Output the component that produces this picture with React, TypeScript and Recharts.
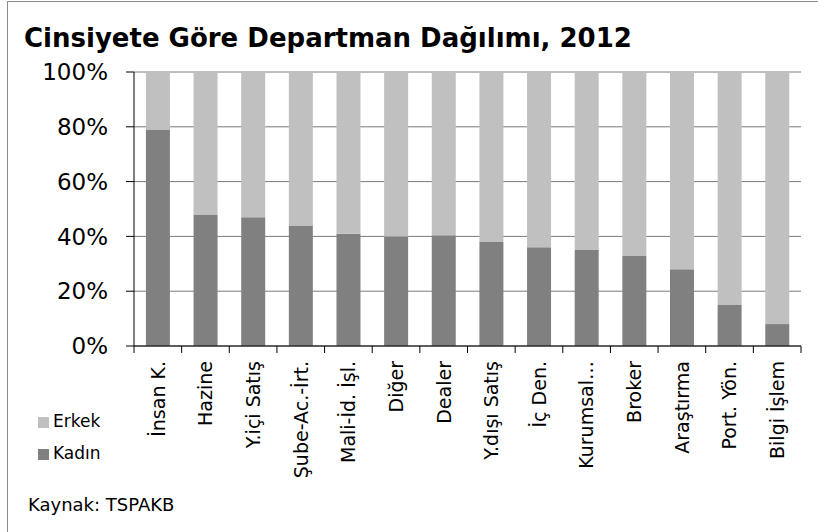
import React from "react";
import { Bar, BarChart, CartesianGrid, XAxis, YAxis } from "recharts";

// departments, sorted by share of women
const departments = [
  "İnsan K.",
  "Hazine",
  "Y.içi Satış",
  "Şube-Ac.-İrt.",
  "Mali-İd. İşl.",
  "Diğer",
  "Dealer",
  "Y.dışı Satış",
  "İç Den.",
  "Kurumsal…",
  "Broker",
  "Araştırma",
  "Port. Yön.",
  "Bilgi İşlem",
];

// share of women (%)
const kadin = [79, 48, 47, 44, 41, 40, 40.4, 38, 36, 35, 33, 28, 15, 8];
// share of men (%)
const erkek = kadin.map((k) => 100 - k);

const yTicks = [0, 20, 40, 60, 80, 100];

const COLORS = {
  kadin: "#808080",
  erkek: "#c0c0c0",
};

const FONT = "'DejaVu Sans', Verdana, sans-serif";

const chartData = departments.map((name, i) => ({
  name,
  kadin: kadin[i],
  erkek: erkek[i],
}));

// category label, rotated, with the tick mark between categories (Excel style)
function DeptTick(props: any) {
  const { x, y, payload, index, visibleTicksCount } = props;
  const half = payload.offset ?? 23.8;
  const last = index === visibleTicksCount - 1;
  return (
    <g>
      <line x1={x - half} y1={y} x2={x - half} y2={y + 7} stroke="#000" />
      {last && <line x1={x + half} y1={y} x2={x + half} y2={y + 7} stroke="#000" />}
      <text
        x={x}
        y={y + 15}
        transform={`rotate(-90, ${x}, ${y + 15})`}
        textAnchor="end"
        dy="0.36em"
        fill="#000"
        fontSize={19}
        fontFamily={FONT}
      >
        {payload.value}
      </text>
    </g>
  );
}

export default function App() {
  return (
    <div
      style={{
        position: "absolute",
        left: 0,
        top: 0,
        width: 818,
        height: 532,
        background: "#fff",
        overflow: "hidden",
        fontFamily: FONT,
      }}
    >
      <div
        style={{
          position: "absolute",
          left: 7,
          top: 1,
          width: 1000,
          height: 1000,
          borderLeft: "1px solid #8c8c8c",
          borderTop: "1px solid #8c8c8c",
        }}
      />
      <div
        style={{
          position: "absolute",
          left: 24,
          top: 25,
          fontSize: 26,
          lineHeight: "26px",
          fontWeight: "bold",
          color: "#000",
          whiteSpace: "nowrap",
        }}
      >
        Cinsiyete Göre Departman Dağılımı, 2012
      </div>

      <div style={{ position: "absolute", left: 0, top: 0 }}>
        <BarChart
          width={818}
          height={532}
          data={chartData}
          margin={{ top: 72, right: 17, left: 0, bottom: 0 }}
          barCategoryGap="25%"
        >
          <CartesianGrid vertical={false} stroke="#7a7a7a" strokeWidth={1} />
          <XAxis
            dataKey="name"
            height={186}
            interval={0}
            axisLine={{ stroke: "#000" }}
            tickLine={false}
            tickSize={0}
            tickMargin={0}
            tick={<DeptTick />}
          />
          <YAxis
            width={134}
            domain={[0, 100]}
            ticks={yTicks}
            tickFormatter={(v) => `${v}%`}
            axisLine={{ stroke: "#000" }}
            tickLine={{ stroke: "#000" }}
            tickSize={8}
            tickMargin={18}
            tick={{ fill: "#000", fontSize: 23, fontFamily: FONT }}
          />
          <Bar dataKey="kadin" stackId="a" fill={COLORS.kadin} isAnimationActive={false} />
          <Bar dataKey="erkek" stackId="a" fill={COLORS.erkek} isAnimationActive={false} />
        </BarChart>
      </div>

      {[
        { label: "Erkek", color: COLORS.erkek, top: 417 },
        { label: "Kadın", color: COLORS.kadin, top: 449 },
      ].map((item) => (
        <div
          key={item.label}
          style={{
            position: "absolute",
            left: 38,
            top: item.top,
            display: "flex",
            alignItems: "center",
            height: 11,
            fontSize: 17,
            color: "#000",
          }}
        >
          <span
            style={{
              display: "inline-block",
              width: 11,
              height: 11,
              background: item.color,
              marginRight: 4,
            }}
          />
          <span style={{ lineHeight: "11px", position: "relative", top: -1 }}>{item.label}</span>
        </div>
      ))}

      <div
        style={{
          position: "absolute",
          left: 28,
          top: 496,
          fontSize: 18,
          lineHeight: "18px",
          color: "#000",
          whiteSpace: "nowrap",
        }}
      >
        Kaynak: TSPAKB
      </div>
    </div>
  );
}
